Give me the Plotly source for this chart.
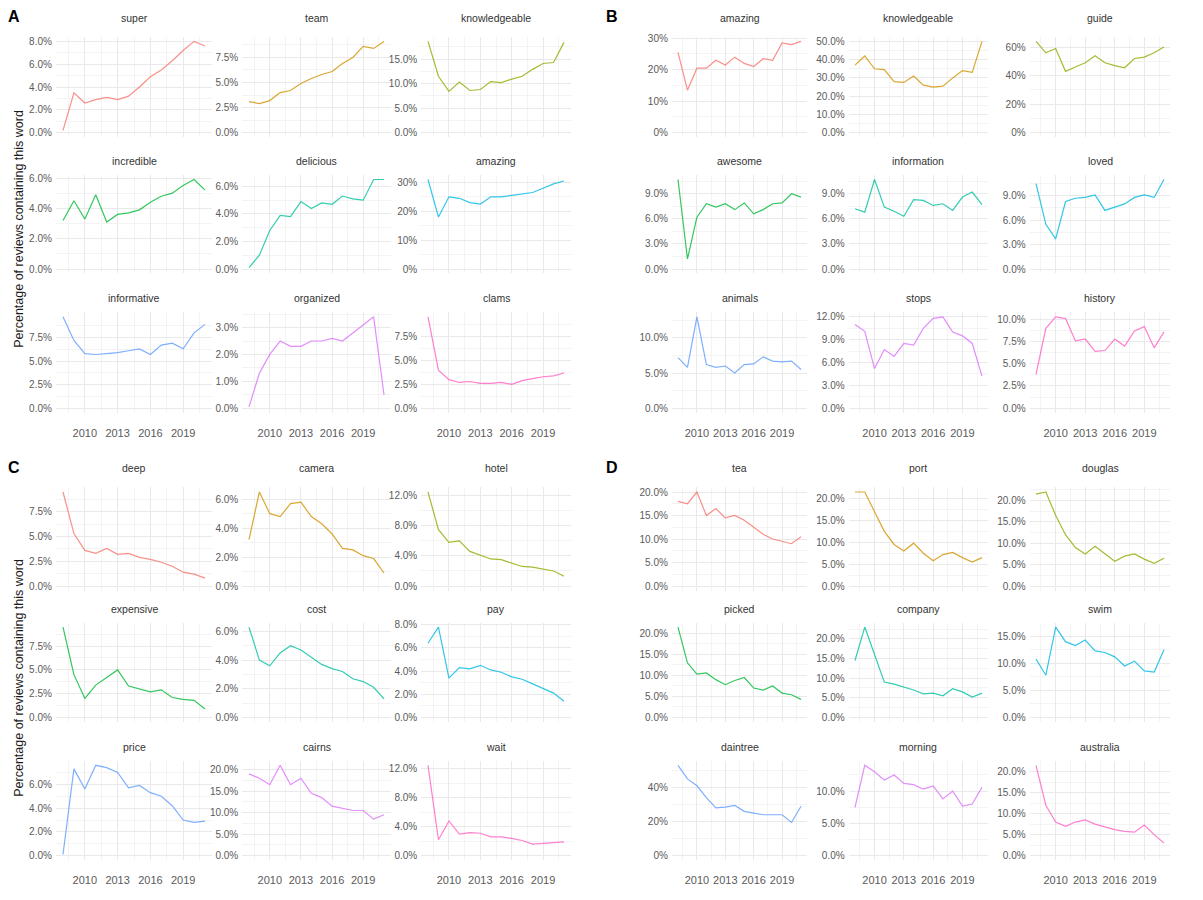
import plotly.graph_objects as go

years = list(range(2008, 2022))
x_ticks = [2010, 2013, 2016, 2019]

# ---- Panel A: words rising in use ----
A_words = ["super", "team", "knowledgeable", "incredible", "delicious",
           "amazing", "informative", "organized", "clams"]
A_super = [0.2, 3.5, 2.6, 2.9, 3.1, 2.9, 3.2, 4.0, 4.9, 5.5, 6.3, 7.2, 8.0, 7.6]
A_team = [3.1, 2.9, 3.2, 4.0, 4.2, 4.9, 5.4, 5.8, 6.1, 6.9, 7.5, 8.6, 8.4, 9.1]
A_knowledgeable = [18.6, 11.5, 8.4, 10.3, 8.6, 8.8, 10.4, 10.2, 10.9, 11.5, 12.9, 14.1, 14.3, 18.4]
A_incredible = [3.2, 4.5, 3.3, 4.9, 3.1, 3.6, 3.7, 3.9, 4.4, 4.8, 5.0, 5.5, 5.9, 5.2]
A_delicious = [0.1, 1.0, 2.8, 3.9, 3.8, 4.9, 4.4, 4.8, 4.7, 5.3, 5.1, 5.0, 6.5, 6.5]
A_amazing = [31.0, 18.0, 25.0, 24.5, 23.0, 22.5, 25.0, 25.0, 25.5, 26.0, 26.5, 28.0, 29.5, 30.5]
A_informative = [9.7, 7.2, 5.8, 5.7, 5.8, 5.9, 6.1, 6.3, 5.7, 6.7, 6.9, 6.3, 8.0, 8.9]
A_organized = [0.05, 1.3, 2.0, 2.5, 2.3, 2.3, 2.5, 2.5, 2.6, 2.5, 2.8, 3.1, 3.4, 0.5]
A_clams = [9.6, 4.0, 3.0, 2.7, 2.8, 2.6, 2.6, 2.7, 2.5, 2.9, 3.1, 3.3, 3.4, 3.7]
A_ticks = [[0, 2, 4, 6, 8], [0, 2.5, 5, 7.5], [0, 5, 10, 15],
           [0, 2, 4, 6], [0, 2, 4, 6], [0, 10, 20, 30],
           [0, 2.5, 5, 7.5], [0, 1, 2, 3], [0, 2.5, 5, 7.5]]
A_decimals = [1, 1, 1, 1, 1, 0, 1, 1, 1]

# ---- Panel B ----
B_words = ["amazing", "knowledgeable", "guide", "awesome", "information",
           "loved", "animals", "stops", "history"]
B_amazing = [25.5, 13.5, 20.5, 20.5, 23.0, 21.5, 24.0, 22.0, 21.0, 23.5, 23.0, 28.5, 28.0, 29.0]
B_knowledgeable = [37.0, 42.0, 35.0, 34.5, 28.0, 27.5, 31.0, 26.0, 25.0, 25.5, 30.0, 34.0, 33.0, 50.0]
B_guide = [64.0, 56.0, 59.0, 43.0, 46.0, 49.0, 54.0, 49.0, 47.0, 45.5, 52.0, 53.0, 56.0, 60.0]
B_awesome = [10.7, 1.2, 6.2, 7.8, 7.4, 7.8, 7.1, 7.9, 6.6, 7.1, 7.8, 7.9, 9.0, 8.6]
B_information = [7.2, 6.8, 10.7, 7.4, 6.9, 6.3, 8.3, 8.2, 7.6, 7.8, 7.0, 8.6, 9.2, 7.7]
B_loved = [10.5, 5.5, 3.7, 8.3, 8.7, 8.8, 9.1, 7.2, 7.6, 8.0, 8.8, 9.1, 8.8, 11.0]
B_animals = [7.2, 5.8, 13.0, 6.2, 5.8, 6.0, 5.0, 6.2, 6.3, 7.3, 6.7, 6.6, 6.7, 5.5]
B_stops = [11.0, 10.1, 5.2, 7.7, 6.8, 8.5, 8.3, 10.5, 11.8, 12.0, 10.0, 9.5, 8.5, 4.2]
B_history = [3.8, 9.0, 10.3, 10.1, 7.6, 7.8, 6.4, 6.5, 7.8, 7.0, 8.7, 9.2, 6.8, 8.6]
B_ticks = [[0, 10, 20, 30], [0, 10, 20, 30, 40, 50], [0, 20, 40, 60],
           [0, 3, 6, 9], [0, 3, 6, 9], [0, 3, 6, 9],
           [0, 5, 10], [0, 3, 6, 9, 12], [0, 2.5, 5, 7.5, 10]]
B_decimals = [0, 1, 0, 1, 1, 1, 1, 1, 1]

# ---- Panel C: words falling in use ----
C_words = ["deep", "camera", "hotel", "expensive", "cost", "pay",
           "price", "cairns", "wait"]
C_deep = [9.5, 5.3, 3.6, 3.3, 3.8, 3.2, 3.3, 2.9, 2.7, 2.4, 2.0, 1.4, 1.2, 0.8]
C_camera = [3.2, 6.5, 5.0, 4.8, 5.7, 5.8, 4.8, 4.3, 3.6, 2.6, 2.5, 2.1, 1.9, 0.9]
C_hotel = [12.5, 7.5, 5.8, 6.0, 4.6, 4.1, 3.6, 3.5, 3.0, 2.6, 2.5, 2.2, 2.0, 1.3]
C_expensive = [9.5, 4.5, 2.0, 3.4, 4.2, 5.0, 3.3, 3.0, 2.7, 2.9, 2.1, 1.9, 1.8, 0.9]
C_cost = [6.3, 4.0, 3.6, 4.5, 5.0, 4.7, 4.2, 3.7, 3.4, 3.2, 2.7, 2.5, 2.1, 1.3]
C_pay = [6.4, 7.8, 3.4, 4.3, 4.2, 4.5, 4.1, 3.9, 3.5, 3.3, 2.9, 2.5, 2.1, 1.4]
C_price = [0.1, 7.3, 5.6, 7.6, 7.4, 7.0, 5.7, 5.9, 5.3, 5.0, 4.2, 3.0, 2.8, 2.9]
C_cairns = [19.0, 18.0, 16.5, 21.0, 16.5, 18.0, 14.5, 13.5, 11.5, 11.0, 10.5, 10.5, 8.5, 9.5]
C_wait = [12.5, 2.2, 4.8, 3.0, 3.2, 3.1, 2.6, 2.6, 2.4, 2.1, 1.6, 1.7, 1.9, 1.9]
C_ticks = [[0, 2.5, 5, 7.5], [0, 2, 4, 6], [0, 4, 8, 12],
           [0, 2.5, 5, 7.5], [0, 2, 4, 6], [0, 2, 4, 6, 8],
           [0, 2, 4, 6], [0, 5, 10, 15, 20], [0, 4, 8, 12]]
C_decimals = [1, 1, 1, 1, 1, 1, 1, 1, 1]

# ---- Panel D ----
D_words = ["tea", "port", "douglas", "picked", "company", "swim",
           "daintree", "morning", "australia"]
D_tea = [18.0, 17.5, 20.0, 15.0, 16.5, 14.5, 15.0, 14.0, 12.5, 11.0, 10.0, 9.5, 9.0, 10.5]
D_port = [21.5, 21.5, 17.0, 12.5, 9.5, 8.0, 9.8, 7.5, 5.8, 7.2, 7.7, 6.5, 5.5, 6.5]
D_douglas = [21.5, 22.0, 16.5, 12.0, 9.0, 7.5, 9.3, 7.5, 5.8, 7.0, 7.5, 6.3, 5.3, 6.5]
D_picked = [21.5, 13.0, 10.3, 10.6, 9.0, 7.8, 8.8, 9.5, 7.0, 6.5, 7.5, 5.8, 5.4, 4.3]
D_company = [14.5, 23.0, 16.0, 9.0, 8.5, 7.8, 7.0, 6.0, 6.2, 5.5, 7.3, 6.5, 5.2, 6.2]
D_swim = [10.8, 7.8, 16.7, 14.0, 13.3, 14.3, 12.3, 12.0, 11.2, 9.5, 10.4, 8.6, 8.4, 12.5]
D_daintree = [53.0, 45.0, 41.0, 34.0, 28.0, 28.5, 29.5, 26.0, 25.0, 24.0, 24.0, 24.0, 19.5, 29.0]
D_morning = [7.5, 14.0, 13.0, 11.7, 12.5, 11.2, 11.0, 10.3, 10.8, 8.8, 10.0, 7.7, 8.0, 10.6]
D_australia = [21.5, 12.0, 8.0, 7.0, 8.0, 8.5, 7.5, 6.8, 6.2, 5.8, 5.6, 7.3, 5.0, 3.0]
D_ticks = [[0, 5, 10, 15, 20], [0, 5, 10, 15, 20], [0, 5, 10, 15, 20],
           [0, 5, 10, 15, 20], [0, 5, 10, 15, 20], [0, 5, 10, 15],
           [0, 20, 40], [0, 5, 10], [0, 5, 10, 15, 20]]
D_decimals = [1, 1, 1, 1, 1, 1, 0, 1, 1]

# default ggplot hue palette for nine facets
hue9 = ["#F8766D", "#D39200", "#93AA00", "#00BA38", "#00C19F",
        "#00B9E3", "#619CFF", "#DB72FB", "#FF61C3"]

W, H = 1203, 900

# pixel geometry: x pixel of 2008 and 2021 per column; panel top/bottom per row
cols_left = [(63, 205), (249, 384), (428, 564)]
cols_right = [(678, 801), (855, 982), (1036, 1164)]
rows_top = [(33, 134), (172, 271), (310, 411)]
rows_bottom = [(486, 590), (622, 722), (761, 861)]

panels = [
    ("A", A_words, [A_super, A_team, A_knowledgeable, A_incredible, A_delicious,
                    A_amazing, A_informative, A_organized, A_clams],
     A_ticks, A_decimals, cols_left, rows_top),
    ("B", B_words, [B_amazing, B_knowledgeable, B_guide, B_awesome, B_information,
                    B_loved, B_animals, B_stops, B_history],
     B_ticks, B_decimals, cols_right, rows_top),
    ("C", C_words, [C_deep, C_camera, C_hotel, C_expensive, C_cost, C_pay,
                    C_price, C_cairns, C_wait],
     C_ticks, C_decimals, cols_left, rows_bottom),
    ("D", D_words, [D_tea, D_port, D_douglas, D_picked, D_company, D_swim,
                    D_daintree, D_morning, D_australia],
     D_ticks, D_decimals, cols_right, rows_bottom),
]

FONT = "Liberation Sans, Arial, sans-serif"
GRID_MAJOR = "#E9E9E9"
GRID_MINOR = "#F3F3F3"
TICK_COLOR = "#5A5A5A"

fig = go.Figure()
layout = {}
annotations = []

x_lo, x_hi = years[0], years[-1]
x_pad = 0.05 * (x_hi - x_lo)
x_minor = [2008.5, 2011.5, 2014.5, 2017.5, 2020.5]
title_gap = [19, 14, 14]   # strip-title offset above each facet row

k = 0
for letter, words, series, ticks, decs, cols, rows in panels:
    for i, (word, vals) in enumerate(zip(words, series)):
        k += 1
        r, c = divmod(i, 3)
        a, b = cols[c]
        px_pad = 0.05 * (b - a)
        x0, x1 = a - px_pad, b + px_pad
        top, bottom = rows[r]
        xa = "x" if k == 1 else f"x{k}"
        ya = "y" if k == 1 else f"y{k}"
        xkey = "xaxis" if k == 1 else f"xaxis{k}"
        ykey = "yaxis" if k == 1 else f"yaxis{k}"

        fig.add_trace(go.Scatter(
            x=years, y=vals, mode="lines", xaxis=xa, yaxis=ya,
            line=dict(color=hue9[i], width=1.2), opacity=0.8,
            showlegend=False, hoverinfo="skip"))

        ymax = max(vals)
        tv = ticks[i]
        step = tv[1] - tv[0]
        y_minor = [t + step / 2 for t in tv] + [tv[0] - step / 2]
        layout[xkey] = dict(
            domain=[x0 / W, x1 / W], anchor=ya,
            range=[x_lo - x_pad, x_hi + x_pad],
            tickvals=x_ticks, ticktext=[str(t) for t in x_ticks],
            showticklabels=(r == 2), ticks="",
            tickfont=dict(size=11, color=TICK_COLOR, family=FONT),
            ticklabelstandoff=12,
            showgrid=True, gridcolor=GRID_MAJOR, gridwidth=1,
            minor=dict(tickvals=x_minor, showgrid=True, gridcolor=GRID_MINOR, gridwidth=0.7),
            zeroline=False, showline=False, fixedrange=True)
        layout[ykey] = dict(
            domain=[1 - bottom / H, 1 - top / H], anchor=xa,
            range=[-0.05 * ymax, 1.05 * ymax],
            tickvals=tv, ticktext=[f"{t:.{decs[i]}f}%" for t in tv],
            ticks="", tickfont=dict(size=10, color=TICK_COLOR, family=FONT),
            showgrid=True, gridcolor=GRID_MAJOR, gridwidth=1,
            minor=dict(tickvals=y_minor, showgrid=True, gridcolor=GRID_MINOR, gridwidth=0.7),
            zeroline=False, showline=False, fixedrange=True, ticklabelstandoff=3)

        annotations.append(dict(
            text=word, x=(x0 + x1) / 2 / W, y=1 - (top - title_gap[r]) / H,
            xref="paper", yref="paper", showarrow=False,
            xanchor="center", yanchor="middle",
            font=dict(size=10.5, color="#333333", family=FONT)))

    # panel letter
    lx = 14 if letter in "AC" else 612
    ly = rows[0][0] - 20
    annotations.append(dict(
        text=f"<b>{letter}</b>", x=lx / W, y=1 - ly / H, xref="paper", yref="paper",
        showarrow=False, xanchor="center", yanchor="middle",
        font=dict(size=16, color="black", family=FONT)))

    if letter in "AC":
        mid = (rows[0][0] + rows[2][1]) / 2 + 4
        annotations.append(dict(
            text="Percentage of reviews containing this word",
            x=19 / W, y=1 - mid / H, xref="paper", yref="paper",
            showarrow=False, textangle=-90, xanchor="center", yanchor="middle",
            font=dict(size=12.5, color="#1A1A1A", family=FONT)))

fig.update_layout(
    width=W, height=H, margin=dict(l=0, r=0, t=0, b=0),
    paper_bgcolor="white", plot_bgcolor="white",
    annotations=annotations, showlegend=False, **layout)

fig.write_html("out.html")
